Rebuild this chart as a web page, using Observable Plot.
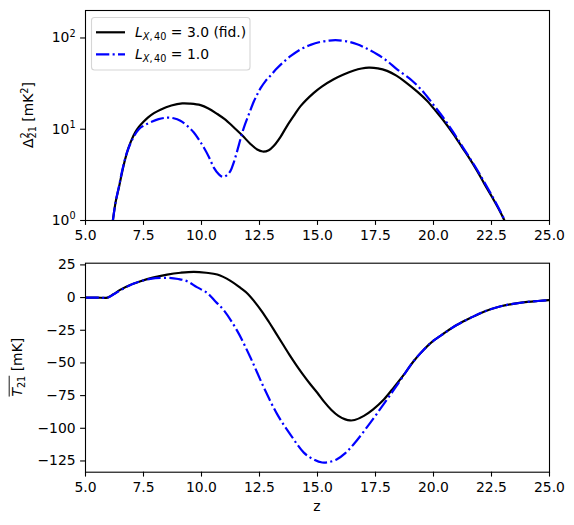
<!DOCTYPE html>
<html><head><meta charset="utf-8">
<script src="https://cdn.jsdelivr.net/npm/d3@7"></script>
<script src="https://cdn.jsdelivr.net/npm/@observablehq/plot@0.6"></script>
<style>html,body{margin:0;padding:0;background:#fff;} svg{display:block;}</style>
</head><body><div id="chart"></div>
<script>
// ---- tick values ----
const xTicks = [5, 7.5, 10, 12.5, 15, 17.5, 20, 22.5, 25];
const yTopTicks = [1, 10, 100];
const yBotTicks = [-125, -100, -75, -50, -25, 0, 25];
const seriesLabels = ["3.0 (fid.)", "1.0"];

// ---- top panel: power spectrum Δ²21 [mK²] ----
const zTopBlack = [6.18, 6.3, 6.44, 6.58, 6.72, 6.85, 7.0, 7.15, 7.3, 7.5, 7.7, 7.95, 8.23, 8.7, 9.17, 9.5, 9.96, 10.3, 10.68, 11.0, 11.39, 11.75, 12.11, 12.4, 12.64, 12.9, 13.12, 13.4, 13.69, 14.0, 14.27, 14.84, 15.2, 15.7, 16.1, 16.57, 16.9, 17.21, 17.6, 18.0, 18.4, 18.75, 19.3, 19.72, 20.1, 20.44, 20.85, 21.24, 21.55, 21.88, 22.2, 22.53, 22.8, 23.06];
const psTopBlack = [1.0, 1.6, 2.3, 3.4, 4.8, 6.2, 7.8, 9.3, 10.6, 12.1, 13.5, 15.0, 16.4, 18.2, 19.2, 19.1, 18.4, 16.9, 14.7, 12.9, 10.5, 8.6, 6.9, 6.0, 5.7, 5.9, 6.6, 8.2, 10.9, 14.3, 17.9, 25.0, 29.5, 35.3, 39.5, 44.0, 46.3, 47.3, 46.5, 43.6, 38.7, 33.5, 25.8, 20.5, 15.8, 12.4, 8.9, 6.3, 4.8, 3.5, 2.5, 1.8, 1.35, 1.0];
const zTopBlue = [6.18, 6.3, 6.44, 6.6, 6.79, 7.05, 7.3, 7.55, 7.8, 8.15, 8.52, 8.8, 9.09, 9.4, 9.67, 9.9, 10.1, 10.33, 10.53, 10.75, 10.93, 11.1, 11.25, 11.4, 11.54, 11.68, 11.82, 12.05, 12.25, 12.4, 12.54, 12.75, 12.97, 13.2, 13.48, 13.85, 14.27, 14.7, 15.13, 15.5, 15.78, 16.2, 16.71, 17.1, 17.57, 18.0, 18.43, 19.08, 19.58, 20.0, 20.44, 20.85, 21.24, 21.55, 21.88, 22.2, 22.53, 22.8, 23.08];
const psTopBlue = [1.0, 1.6, 2.35, 3.7, 5.6, 8.0, 10.0, 11.1, 11.9, 12.9, 13.4, 13.2, 12.4, 10.8, 9.2, 7.6, 6.3, 4.9, 3.8, 3.2, 3.0, 3.15, 3.5, 4.4, 5.8, 7.8, 10.3, 14.8, 20.0, 24.0, 28.0, 33.5, 38.5, 45, 53, 63.5, 75, 84, 90.5, 93.5, 94.5, 92.5, 85.3, 77, 66.3, 56, 45.3, 34, 25.3, 18.5, 13.2, 9.3, 6.5, 4.9, 3.6, 2.6, 1.85, 1.38, 1.0];

// ---- bottom panel: global signal T21 [mK] ----
const zBotBlack = [5.0, 5.5, 5.95, 6.2, 6.51, 6.9, 7.37, 7.9, 8.52, 9.1, 9.67, 10.2, 10.68, 11.25, 11.68, 12.0, 12.3, 12.6, 12.9, 13.2, 13.5, 13.8, 14.1, 14.4, 14.7, 15.0, 15.3, 15.6, 15.9, 16.2, 16.4, 16.6, 17.0, 17.4, 17.86, 18.3, 18.79, 19.15, 19.6, 20.0, 20.44, 21.0, 21.6, 22.2, 22.9, 23.5, 24.05, 24.5, 25.0];
const tBotBlack = [0, 0, 0, 2.5, 6.1, 9.5, 12.5, 15.3, 17.6, 19.0, 19.7, 19.0, 17.6, 12.8, 7.4, 2.8, -3.5, -10.5, -18.5, -27, -35.5, -44, -52, -59.5, -66.5, -73, -80, -86, -90.5, -93.2, -94, -93.7, -90.5, -85.5, -78, -68.5, -57.4, -48.5, -39.5, -33, -27.5, -21, -15.5, -10.6, -6.6, -4.6, -3.3, -2.6, -2.0];
const zBotBlue = [5.0, 5.5, 5.95, 6.2, 6.51, 7.08, 7.8, 8.52, 9.0, 9.38, 9.8, 10.24, 10.6, 10.96, 11.54, 12.11, 12.69, 13.26, 13.84, 14.41, 14.8, 15.2, 15.5, 15.84, 16.2, 16.56, 17.28, 18.0, 18.4, 18.79, 19.15, 19.6, 20.0, 20.44, 21.0, 21.6, 22.2, 22.9, 23.5, 24.05, 24.5, 25.0];
const tBotBlue = [0, 0, 0, 2.3, 5.6, 10.7, 14.3, 15.1, 14.2, 12.5, 8.0, 3.6, -3.0, -9.7, -25.5, -45.9, -68.9, -89.2, -105, -118.6, -123.5, -126.2, -125.8, -123.7, -119, -112.2, -95.7, -77.8, -67.8, -57.4, -48.5, -39.5, -33, -27.5, -21, -15.5, -10.6, -6.6, -4.6, -3.3, -2.6, -2.0];

const rows = (zs, vs) => zs.map((z, i) => ({z, v: vs[i]}));
const topBlack = rows(zTopBlack, psTopBlack);
const topBlue = rows(zTopBlue, psTopBlue);
const botBlack = rows(zBotBlack, tBotBlack);
const botBlue = rows(zBotBlue, tBotBlue);

const FONT = "DejaVu Sans";
const FS = 13.9;
const BLUE = "#0000ff";
const DASH = "13.3,3.3,2.1,3.3";
const LW = 2.2;
const CURVE = "catmull-rom";
const style = {fontFamily: FONT, fontSize: FS + "px", background: "white", color: "black", overflow: "visible"};

const topSvg = Plot.plot({
  width: 574, height: 250,
  marginLeft: 85, marginRight: 25, marginTop: 10, marginBottom: 30,
  style,
  x: {domain: [5, 25]},
  y: {type: "log", domain: [1, 200]},
  marks: [
    Plot.line(topBlack, {x: "z", y: "v", stroke: "black", strokeWidth: LW, curve: CURVE, clip: true}),
    Plot.line(topBlue, {x: "z", y: "v", stroke: BLUE, strokeWidth: LW, strokeDasharray: DASH, strokeLinecap: "butt", curve: CURVE, clip: true}),
    Plot.frame({stroke: "black", strokeWidth: 1.1}),
    Plot.axisX({ticks: xTicks, tickSize: 4.9, tickPadding: 5, strokeWidth: 1.1, tickFormat: d3.format(".1f"), label: null}),
    Plot.axisY({ticks: yTopTicks, tickSize: 4.9, tickPadding: 5, strokeWidth: 1.1, tickFormat: d => "10^" + Math.round(Math.log10(d)), label: null})
  ]
});

const botSvg = Plot.plot({
  width: 574, height: 275,
  marginLeft: 85, marginRight: 25, marginTop: 12.7, marginBottom: 53.3,
  style,
  x: {domain: [5, 25]},
  y: {domain: [-133.6, 26.3]},
  marks: [
    Plot.line(botBlack, {x: "z", y: "v", stroke: "black", strokeWidth: LW, curve: CURVE, clip: true}),
    Plot.line(botBlue, {x: "z", y: "v", stroke: BLUE, strokeWidth: LW, strokeDasharray: DASH, strokeLinecap: "butt", curve: CURVE, clip: true}),
    Plot.frame({stroke: "black", strokeWidth: 1.1}),
    Plot.axisX({ticks: xTicks, tickSize: 4.9, tickPadding: 5, strokeWidth: 1.1, tickFormat: d3.format(".1f"), label: null}),
    Plot.axisY({ticks: yBotTicks, tickSize: 4.9, tickPadding: 5, strokeWidth: 1.1, tickFormat: d3.format("d"), label: null})
  ]
});

const chart = document.getElementById("chart");
chart.appendChild(topSvg);
chart.appendChild(botSvg);

// ---- log tick labels: 10 with superscript exponent ----
d3.select(topSvg).selectAll("text").each(function () {
  const s = this.textContent;
  if (/^10\^\d$/.test(s)) {
    const e = s.split("^")[1];
    const t = d3.select(this);
    t.text(null);
    t.append("tspan").text("10");
    t.append("tspan").attr("font-size", 9.7).attr("dy", -5.5).text(e);
  }
});

// ---- legend (top panel) ----
const lg = d3.select(topSvg).append("g").attr("font-family", FONT).attr("font-size", FS).attr("text-anchor", "start");
lg.append("rect").attr("x", 91.5).attr("y", 17.5).attr("width", 158.5).attr("height", 52.5)
  .attr("rx", 3).attr("fill", "white").attr("fill-opacity", 0.8).attr("stroke", "#d6d6d6").attr("stroke-width", 1.1);
const legendRows = [
  {y: 32.3, stroke: "black", dash: null, label: seriesLabels[0]},
  {y: 54.3, stroke: BLUE, dash: DASH, label: seriesLabels[1]}
];
legendRows.forEach(r => {
  const ln = lg.append("line").attr("x1", 96).attr("x2", 125).attr("y1", r.y).attr("y2", r.y)
    .attr("stroke", r.stroke).attr("stroke-width", LW);
  if (r.dash) ln.attr("stroke-dasharray", DASH);
  const t = lg.append("text").attr("x", 135).attr("y", r.y + 5).attr("fill", "black").attr("text-anchor", "start");
  t.append("tspan").attr("font-style", "italic").text("L");
  t.append("tspan").attr("font-size", 9.7).attr("dy", 2.8).attr("font-style", "italic").text("X");
  t.append("tspan").attr("font-size", 9.7).text(",");
  t.append("tspan").attr("font-size", 9.7).attr("dx", 1.6).text("40");
  t.append("tspan").attr("dy", -2.8).text(" = " + r.label);
});

// ---- y labels ----
const gTop = d3.select(topSvg).append("g").attr("transform", "translate(33.2,115) rotate(-90)");
const tTop = gTop.append("text").attr("text-anchor", "middle").attr("font-family", FONT).attr("font-size", FS).attr("fill", "black");
tTop.append("tspan").text("\u0394");
tTop.append("tspan").attr("font-size", 9.7).attr("dy", -5.5).text("2");
tTop.append("tspan").attr("font-size", 9.7).attr("dx", -6.2).attr("dy", 8.5).text("21");
tTop.append("tspan").attr("dy", -3).text(" [mK");
tTop.append("tspan").attr("font-size", 9.7).attr("dy", -5.5).text("2");
tTop.append("tspan").attr("dy", 5.5).text("]");

const gBot = d3.select(botSvg).append("g").attr("transform", "translate(21.5,117.2) rotate(-90)");
const tBot = gBot.append("text").attr("text-anchor", "start").attr("font-family", FONT).attr("font-size", FS).attr("fill", "black");
tBot.append("tspan").attr("font-style", "italic").text("T");
tBot.append("tspan").attr("font-size", 9.7).attr("dy", 3).text("21");
tBot.append("tspan").attr("dy", -3).text(" [mK]");
const node = tBot.node();
const total = node.getComputedTextLength();
tBot.attr("x", -total / 2);
const olen = node.getSubStringLength(0, 3);
gBot.append("line").attr("x1", -total / 2).attr("x2", -total / 2 + olen)
  .attr("y1", -12.3).attr("y2", -12.3).attr("stroke", "black").attr("stroke-width", 0.9);

// ---- x label ----
d3.select(botSvg).append("text").attr("x", 317).attr("y", 260.8).attr("text-anchor", "middle")
  .attr("font-family", FONT).attr("font-size", FS).attr("fill", "black").text("z");
</script>
</body></html>
